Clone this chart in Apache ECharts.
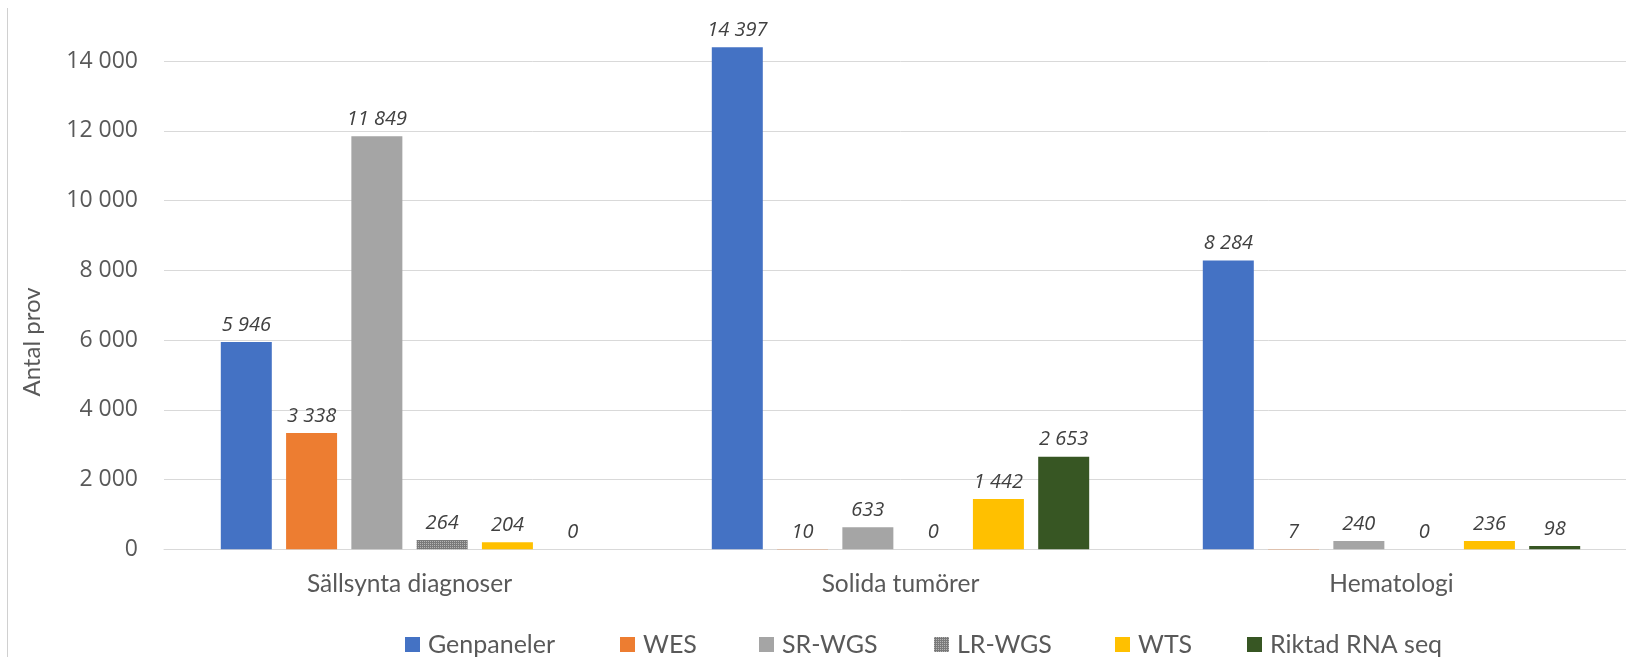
<!DOCTYPE html>
<html>
<head>
<meta charset="utf-8">
<script src="https://cdn.jsdelivr.net/npm/echarts@6/dist/echarts.min.js"></script>
<style>
html,body{margin:0;padding:0;background:#fff;overflow:hidden;width:1626px;height:657px;}
#chart{position:absolute;left:0;top:-9px;width:1637px;height:666px;}
</style>
</head>
<body>
<div id="chart"></div>
<script>
// ---- data ----
const categories = ['Sällsynta diagnoser', 'Solida tumörer', 'Hematologi'];
const seriesNames = ['Genpaneler', 'WES', 'SR-WGS', 'LR-WGS', 'WTS', 'Riktad RNA seq'];
const genpaneler = [5946, 14397, 8284];
const wes = [3338, 10, 7];
const srWgs = [11849, 633, 240];
const lrWgs = [264, 0, 0];
const wts = [204, 1442, 236];
const riktadRna = [0, 2653, 98];
const yTicks = [0, 2000, 4000, 6000, 8000, 10000, 12000, 14000, 16000];

const seriesValues = [genpaneler, wes, srWgs, lrWgs, wts, riktadRna];

// ---- styles ----
function dotPattern() {
  const c = document.createElement('canvas');
  c.width = 4; c.height = 4;
  const ctx = c.getContext('2d');
  ctx.fillStyle = '#7a7a7a';
  ctx.fillRect(0, 0, 4, 4);
  ctx.fillStyle = '#b5b5b5';
  ctx.fillRect(0, 0, 1, 1);
  ctx.fillRect(2, 2, 1, 1);
  ctx.fillRect(2, 0, 1, 1);
  ctx.fillRect(0, 2, 1, 1);
  return { image: c, repeat: 'repeat' };
}
const colors = ['#4472C4', '#ED7D31', '#A5A5A5', dotPattern(), '#FFC000', '#375623'];
const legendLeft = [405, 620, 759, 934, 1115, 1247];
const OY = 9; // container vertical offset

const fmt = v => String(v).replace(/\B(?=(\d{3})+(?!\d))/g, ' ');

const chart = echarts.init(document.getElementById('chart'), null, { renderer: 'canvas' });

const option = {
  animation: false,
  backgroundColor: '#ffffff',
  grid: { left: 164, right: 0, top: 0.4, bottom: 107.7, containLabel: false, outerBoundsMode: 'none' },
  xAxis: {
    type: 'category',
    data: categories,
    axisLine: { show: true, lineStyle: { color: '#d9d9d9', width: 1 } },
    axisTick: { show: false },
    axisLabel: {
      color: '#595959', fontFamily: 'Lato', fontSize: 24.5, margin: 22
    }
  },
  yAxis: {
    type: 'value',
    min: yTicks[0],
    max: yTicks[yTicks.length - 1],
    interval: yTicks[1] - yTicks[0],
    axisLine: { show: false },
    axisTick: { show: false },
    splitLine: { lineStyle: { color: '#d9d9d9', width: 1 } },
    axisLabel: {
      color: '#595959', fontFamily: 'Open Sans', fontSize: 23, margin: 26,
      showMaxLabel: false,
      formatter: v => fmt(v)
    }
  },
  legend: seriesNames.map((n, i) => ({
    data: [n],
    left: legendLeft[i],
    top: 632 + OY,
    padding: 0,
    itemWidth: 15,
    itemHeight: 15,
    icon: 'rect',
    textStyle: { color: '#595959', fontFamily: 'Lato', fontSize: 25, padding: [0, 0, 0, 3] }
  })),
  graphic: [
    {
      type: 'line',
      shape: { x1: 7.5, y1: 8 + OY, x2: 7.5, y2: 680 },
      style: { stroke: '#d0d0d0', lineWidth: 1 }
    },
    {
      type: 'text',
      x: 32, y: 342 + OY,
      rotation: Math.PI / 2,
      style: {
        text: 'Antal prov', fill: '#595959', font: '24px Lato',
        textAlign: 'center', textVerticalAlign: 'middle'
      }
    }
  ],
  series: seriesNames.map((n, i) => ({
    name: n,
    type: 'bar',
    data: seriesValues[i],
    barWidth: 51,
    barGap: '28%',
    itemStyle: { color: colors[i] },
    label: {
      show: true, position: 'top', distance: 7,
      color: '#404040', fontFamily: 'Open Sans', fontStyle: 'italic', fontSize: 20,
      formatter: p => fmt(p.value)
    }
  }))
};
chart.setOption(option);
</script>
</body>
</html>
